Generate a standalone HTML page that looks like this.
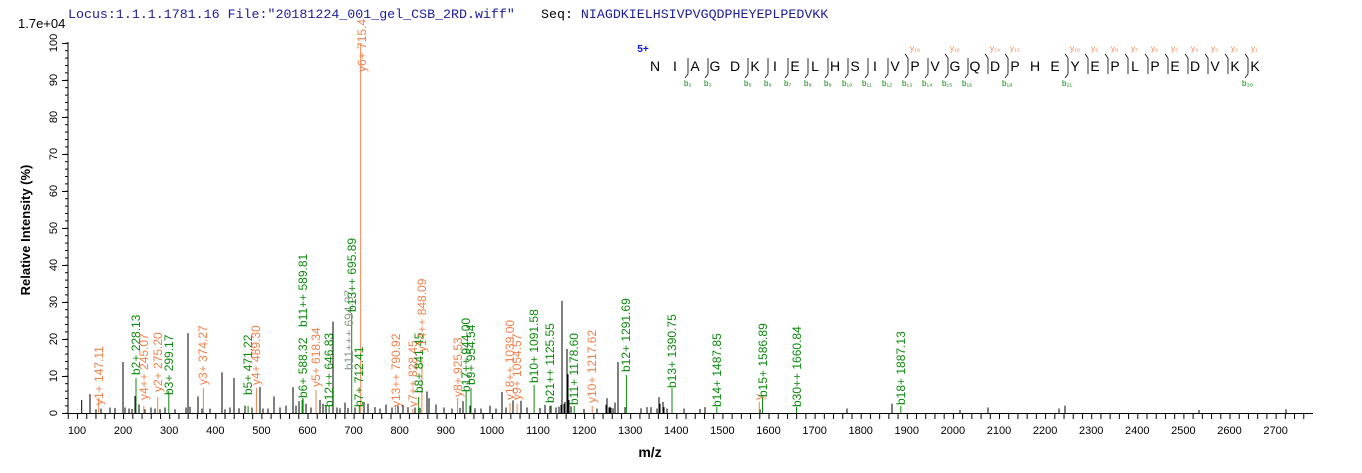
<!DOCTYPE html>
<html><head><meta charset="utf-8"><style>
html,body{margin:0;padding:0;background:#fff;}
svg{display:block;font-family:"Liberation Sans",Arial,sans-serif;}
.o{fill:#f0804a;font-size:12px;}
.g{fill:#0a8a0a;font-size:12px;}
.t{font-size:11px;fill:#000;}
</style></head><body>
<svg width="1362" height="473" viewBox="0 0 1362 473" xmlns="http://www.w3.org/2000/svg">
<defs>
<pattern id="xt" x="67.78" y="413" width="9.22" height="6" patternUnits="userSpaceOnUse"><line x1="0.5" y1="0" x2="0.5" y2="6" stroke="#000" stroke-width="1"/></pattern>
<pattern id="yt" x="63" y="42.8" width="5" height="7.4" patternUnits="userSpaceOnUse"><line x1="2" y1="0.5" x2="5" y2="0.5" stroke="#000" stroke-width="1"/></pattern>
</defs>
<text x="68" y="18" font-family="Liberation Mono,monospace" font-size="13.3" fill="#1c1c9c">Locus:1.1.1.1781.16 File:"20181224_001_gel_CSB_2RD.wiff"</text>
<text x="541" y="18" font-family="Liberation Mono,monospace" font-size="13.3" fill="#000">Seq: <tspan fill="#1c1c9c">NIAGDKIELHSIVPVGQDPHEYEPLPEDVKK</tspan></text>
<text x="18" y="28" font-size="13">1.7e+04</text>
<text transform="translate(30,230) rotate(-90)" text-anchor="middle" font-size="13" font-weight="bold">Relative   Intensity (%)</text>
<text x="650" y="457" text-anchor="middle" font-size="14" font-weight="bold">m/z</text>
<line x1="68" y1="42" x2="68" y2="413.5" stroke="#000"/>
<line x1="68" y1="413.5" x2="1313" y2="413.5" stroke="#000"/>
<rect x="63" y="42.5" width="5" height="371" fill="url(#yt)"/>
<path d="M62 43.5H68M62 80.5H68M62 117.5H68M62 154.5H68M62 191.5H68M62 228.5H68M62 265.5H68M62 302.5H68M62 339.5H68M62 376.5H68M62 413.5H68" stroke="#000"/>
<rect x="67" y="413" width="1238" height="6" fill="url(#xt)"/>
<g class="t" text-anchor="middle">
<text transform="translate(57,43) rotate(-90)">100</text>
<text transform="translate(57,80) rotate(-90)">90</text>
<text transform="translate(57,117) rotate(-90)">80</text>
<text transform="translate(57,154) rotate(-90)">70</text>
<text transform="translate(57,191) rotate(-90)">60</text>
<text transform="translate(57,228) rotate(-90)">50</text>
<text transform="translate(57,265) rotate(-90)">40</text>
<text transform="translate(57,302) rotate(-90)">30</text>
<text transform="translate(57,339) rotate(-90)">20</text>
<text transform="translate(57,376) rotate(-90)">10</text>
<text transform="translate(57,413) rotate(-90)">0</text>
</g>
<g class="t" text-anchor="middle">
<text x="77" y="434">100</text><text x="123.1" y="434">200</text><text x="169.2" y="434">300</text><text x="215.3" y="434">400</text><text x="261.4" y="434">500</text><text x="307.5" y="434">600</text><text x="353.6" y="434">700</text><text x="399.7" y="434">800</text><text x="445.8" y="434">900</text><text x="491.9" y="434">1000</text><text x="538" y="434">1100</text><text x="584.1" y="434">1200</text><text x="630.2" y="434">1300</text><text x="676.3" y="434">1400</text><text x="722.4" y="434">1500</text><text x="768.5" y="434">1600</text><text x="814.6" y="434">1700</text><text x="860.7" y="434">1800</text><text x="906.8" y="434">1900</text><text x="952.9" y="434">2000</text><text x="999" y="434">2100</text><text x="1045.1" y="434">2200</text><text x="1091.2" y="434">2300</text><text x="1137.3" y="434">2400</text><text x="1183.4" y="434">2500</text><text x="1229.5" y="434">2600</text><text x="1275.6" y="434">2700</text>
</g>
<g transform="translate(0,413) scale(1,-3.7)" stroke="#000" stroke-width="1">
<path vector-effect="non-scaling-stroke" d="
M81.7 0V3.5M90 0V5.1M96 0V1M101 0V1.2M110 0V1.5M115 0V1.4M123 0V13.8M125 0V1.5M129 0V1.2M132 0V1.1M135 0V4.6M139 0V2.3M145 0V1M151 0V1.5M155 0V1.2M160 0V1M165 0V1.5M175 0V1
M188 0V21.6M186 0V1.5M190 0V1.7M198 0V4.5M202 0V1.2M210 0V1.2M222 0V11M225 0V1M230 0V1.5M234 0V9.5M239 0V1.3M245 0V2M252 0V1.5M260 0V7M263 0V1.2M268 0V1.2M274 0V4.5M280 0V1.5M286 0V2M293 0V7M296 0V2M299 0V3.2M303 0V3.8M306 0V2.5M311 0V1.5M320 0V3.5M323 0V2.5M326 0V2.2M333 0V24.7M337 0V1.5M340 0V1.3M345 0V2.8M348 0V1.4M355 0V1.5M364 0V3M368 0V2.5M375 0V1.6M380 0V1.2M386 0V2.3M392 0V1.5M398 0V2M403 0V2.2M408 0V1.6M415 0V1.5M420 0V1.4M427 0V5.8M429 0V4M436 0V2.3M444 0V1.5M452 0V1.2M460 0V1.4M463 0V3.2M470 0V2M475 0V1.3M481 0V1.2M490 0V2M496 0V1.2M502 0V5.7M506 0V1.5M513 0V3.4M521 0V3.3M527 0V1.5M540 0V1.4M545 0V2.2M551 0V2
M556 0V1.5M559 0V1.7M561 0V2.2M562 0V30.3M564 0V2.5M565 0V3M567 0V17.3M568 0V10.5M569 0V3.5M571 0V1.8M584 0V1.1M597 0V1.2M606 0V2.2M607 0V4M609 0V1.5M610 0V1.7M611 0V1.4M613 0V1.3M615 0V2.8M618 0V13.8M625 0V1.6M641 0V1.3M647 0V1.6M651 0V1.6M657 0V1.2M659 0V4.3M660 0V2.5M663 0V3M664 0V1.6M667 0V1.2M684 0V1.2M700 0V1.1M705 0V1.6M760 0V1M847 0V1.2M892 0V2.5M960 0V0.8M988 0V1.5M1059 0V1.2M1065 0V2M1199 0V0.8M1286 0V1"/>
</g>
<g stroke-width="1">
<path stroke="#f0804a" d="M98.7 413V398M143.8 413V406M157.7 413V397M203.4 413V388M256.4 413V388M316 413V390M360.7 413V43M395.5 413V405M412.8 413V409M421.9 413V357M457.6 413V398M510 413V403M517.1 413V404M592.2 413V406M759.3 413V402"/>
<path stroke="#0a8a0a" d="M136 413V378M168.8 413V391M248.1 413V406M302.1 413V400M302.8 413V398M329.1 413V406M351.7 413V313M359.3 413V405M418.6 413V397M466.1 413V391M471 413V388M534.1 413V385M549.8 413V406M574.2 413V406M626.4 413V375M672 413V388M716.8 413V407M762.5 413V397M796.5 413V407M900.8 413V406"/>
</g>
<g>
<text class="o" transform="translate(103,405) rotate(-90)">y1+ 147.11</text>
<text class="g" transform="translate(140,375) rotate(-90)">b2+ 228.13</text>
<text class="o" transform="translate(148,400) rotate(-90)">y4++ 245.07</text>
<text class="o" transform="translate(162,392) rotate(-90)">y2+ 275.20</text>
<text class="g" transform="translate(173,395) rotate(-90)">b3+ 299.17</text>
<text class="o" transform="translate(207,385) rotate(-90)">y3+ 374.27</text>
<text class="g" transform="translate(252,395) rotate(-90)">b5+ 471.22</text>
<text class="o" transform="translate(260,385) rotate(-90)">y4+ 489.30</text>
<text class="g" transform="translate(307,398) rotate(-90)">b6+ 588.32</text>
<text class="g" transform="translate(307,327) rotate(-90)">b11++ 589.81</text>
<text class="o" transform="translate(320,387) rotate(-90)">y5+ 618.34</text>
<text class="g" transform="translate(333,407) rotate(-90)">b12++ 646.83</text>
<text transform="translate(353,370) rotate(-90)" font-size="12" fill="#8a9a8a">b11+++ 694.37</text>
<text class="g" transform="translate(356,312) rotate(-90)">b13++ 695.89</text>
<text class="g" transform="translate(363,407) rotate(-90)">b7+ 712.41</text>
<text class="o" transform="translate(366,72) rotate(-90)">y6+ 715.4</text>
<text class="o" transform="translate(400,407) rotate(-90)">y13++ 790.92</text>
<text class="o" transform="translate(417,407) rotate(-90)">y7++ 828.45</text>
<text class="g" transform="translate(423,393) rotate(-90)">b8+ 841.45</text>
<text class="o" transform="translate(426,352) rotate(-90)">y14++ 848.09</text>
<text class="o" transform="translate(462,397) rotate(-90)">y8+ 925.53</text>
<text class="g" transform="translate(470,392) rotate(-90)">b17++ 944.00</text>
<text class="g" transform="translate(475,385) rotate(-90)">b9+ 954.54</text>
<text class="o" transform="translate(514,400) rotate(-90)">y18++ 1039.00</text>
<text class="o" transform="translate(521,400) rotate(-90)">y9+ 1054.57</text>
<text class="g" transform="translate(538,383) rotate(-90)">b10+ 1091.58</text>
<text class="g" transform="translate(554,403) rotate(-90)">b21++ 1125.55</text>
<text class="g" transform="translate(578,405) rotate(-90)">b11+ 1178.60</text>
<text class="o" transform="translate(596,403) rotate(-90)">y10+ 1217.62</text>
<text class="g" transform="translate(630,372) rotate(-90)">b12+ 1291.69</text>
<text class="g" transform="translate(676,388) rotate(-90)">b13+ 1390.75</text>
<text class="g" transform="translate(721,407) rotate(-90)">b14+ 1487.85</text>
<text class="o" transform="translate(763,400) rotate(-90)">y</text>
<text class="g" transform="translate(767,397) rotate(-90)">b15+ 1586.89</text>
<text class="g" transform="translate(801,407) rotate(-90)">b30++ 1660.84</text>
<text class="g" transform="translate(905,405) rotate(-90)">b18+ 1887.13</text>
</g>
<text x="643" y="52" font-size="10" font-weight="bold" fill="#1010e0" text-anchor="middle">5+</text>
<g font-size="14" text-anchor="middle" fill="#000">
<text x="655" y="71">N</text><text x="675" y="71">I</text><text x="695" y="71">A</text><text x="715" y="71">G</text><text x="735" y="71">D</text><text x="755" y="71">K</text><text x="775" y="71">I</text><text x="795" y="71">E</text><text x="815" y="71">L</text><text x="835" y="71">H</text><text x="855" y="71">S</text><text x="875" y="71">I</text><text x="895" y="71">V</text><text x="915" y="71">P</text><text x="935" y="71">V</text><text x="955" y="71">G</text><text x="975" y="71">Q</text><text x="995" y="71">D</text><text x="1015" y="71">P</text><text x="1035" y="71">H</text><text x="1055" y="71">E</text><text x="1075" y="71">Y</text><text x="1095" y="71">E</text><text x="1115" y="71">P</text><text x="1135" y="71">L</text><text x="1155" y="71">P</text><text x="1175" y="71">E</text><text x="1195" y="71">D</text><text x="1215" y="71">V</text><text x="1235" y="71">K</text><text x="1255" y="71">K</text>
</g>
<path stroke="#000" stroke-width="0.8" fill="none" d="
M688 58V74L685 78M708 58V74L705 78M748 58V74L745 78M768 58V74L765 78M788 58V74L785 78M808 58V74L805 78M828 58V74L825 78M848 58V74L845 78M868 58V74L865 78M888 58V74L885 78M908 58V74L905 78M928 58V74L925 78M948 58V74L945 78M968 58V74L965 78M1008 58V74L1005 78M1068 58V74L1065 78M1248 58V74L1245 78
M905 54L908 58M945 54L948 58M985 54L988 58M1005 54L1008 58M1065 54L1068 58M1085 54L1088 58M1105 54L1108 58M1125 54L1128 58M1145 54L1148 58M1165 54L1168 58M1185 54L1188 58M1205 54L1208 58M1225 54L1228 58M1245 54L1248 58
M988 58V74M1088 58V74M1108 58V74M1128 58V74M1148 58V74M1168 58V74M1188 58V74M1208 58V74M1228 58V74"/>
<g font-size="8" fill="#0a8a0a">
<text x="684" y="86">b₂</text><text x="704" y="86">b₃</text><text x="744" y="86">b₅</text><text x="764" y="86">b₆</text><text x="784" y="86">b₇</text><text x="804" y="86">b₈</text><text x="824" y="86">b₉</text><text x="842" y="86">b₁₀</text><text x="862" y="86">b₁₁</text><text x="882" y="86">b₁₂</text><text x="902" y="86">b₁₃</text><text x="922" y="86">b₁₄</text><text x="942" y="86">b₁₅</text><text x="962" y="86">b₁₆</text><text x="1002" y="86">b₁₈</text><text x="1062" y="86">b₂₁</text><text x="1242" y="86">b₃₀</text>
</g>
<g font-size="8" fill="#f0804a">
<text x="910" y="51">y₁₈</text><text x="950" y="51">y₁₆</text><text x="990" y="51">y₁₄</text><text x="1010" y="51">y₁₃</text><text x="1070" y="51">y₁₀</text><text x="1091" y="51">y₉</text><text x="1111" y="51">y₈</text><text x="1131" y="51">y₇</text><text x="1151" y="51">y₆</text><text x="1171" y="51">y₅</text><text x="1191" y="51">y₄</text><text x="1211" y="51">y₃</text><text x="1231" y="51">y₂</text><text x="1251" y="51">y₁</text>
</g>
</svg>
</body></html>
